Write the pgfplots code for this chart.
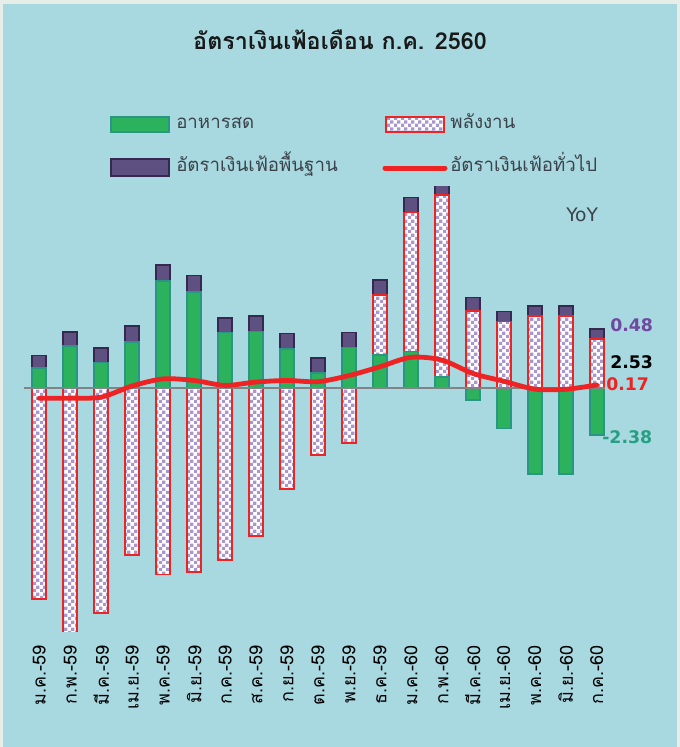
\documentclass[border=0pt]{standalone}
\usepackage{pgfplots}
\pgfplotsset{compat=1.18}
\usepackage{pgfplotstable}
\usetikzlibrary{patterns}
\usepackage{fontspec}
\newfontfamily\thaifont[Script=Thai]{Loma}
\newfontfamily\numfont{DejaVu Sans}

\pgfdeclarepatternformonly{smallcheck}{\pgfqpoint{0pt}{0pt}}{\pgfqpoint{5pt}{5pt}}{\pgfqpoint{5pt}{5pt}}{%
  \pgfpathrectangle{\pgfqpoint{0pt}{0pt}}{\pgfqpoint{2.5pt}{2.5pt}}%
  \pgfpathrectangle{\pgfqpoint{2.5pt}{2.5pt}}{\pgfqpoint{2.5pt}{2.5pt}}%
  \pgfusepath{fill}}

\definecolor{bg}{RGB}{168,216,224}
\definecolor{bordc}{RGB}{231,237,233}
\definecolor{foodfill}{RGB}{44,178,92}
\definecolor{foodline}{RGB}{40,150,130}
\definecolor{corefill}{RGB}{95,80,130}
\definecolor{coreline}{RGB}{55,40,80}
\definecolor{enred}{RGB}{238,36,36}
\definecolor{lav}{RGB}{168,150,204}
\definecolor{hlred}{RGB}{238,36,36}
\definecolor{zerog}{RGB}{128,132,132}
\definecolor{txtgray}{RGB}{60,66,74}
\definecolor{lblpurple}{RGB}{112,72,160}
\definecolor{lblteal}{RGB}{38,160,130}

\pgfplotstableread{
i food energy core hl
0 1.02 -10.75 0.65 -0.51
1 2.16 -12.90 0.72 -0.50
2 1.31 -11.45 0.76 -0.45
3 2.35 -8.50 0.82 0.12
4 5.47 -9.49 0.82 0.48
5 4.90 -9.36 0.85 0.40
6 2.84 -8.76 0.76 0.15
7 2.89 -7.52 0.80 0.32
8 1.99 -5.14 0.80 0.40
9 0.77 -3.40 0.76 0.34
10 2.09 -2.80 0.76 0.65
11 1.70 3.06 0.76 1.10
12 1.87 7.10 0.76 1.58
13 0.59 9.27 0.64 1.44
14 -0.60 3.96 0.68 0.76
15 -2.05 3.40 0.52 0.36
16 -4.37 3.70 0.50 -0.04
17 -4.37 3.70 0.50 -0.05
18 -2.38 2.53 0.48 0.17
}\data

\begin{document}
\begin{tikzpicture}
\begin{scope}[x=0.75pt,y=-0.75pt]
\useasboundingbox (0,0) rectangle (680,747);
\fill[bordc] (0,0) rectangle (680,747);
\fill[bg] (3,4) rectangle (677,747);
% title
\node[inner sep=0pt, font=\thaifont\bfseries\fontsize{17.5}{20}\selectfont, text=black!90] at (340,40) {อัตราเงินเฟ้อเดือน ก.ค. 2560};
% legend
\draw[foodline, fill=foodfill, line width=1.2pt] (111,117) rectangle (169,132);
\draw[coreline, fill=corefill, line width=1.2pt] (111,159) rectangle (169,176);
\draw[enred, line width=1.3pt, preaction={fill=white}, pattern=smallcheck, pattern color=lav] (386,117) rectangle (444,132);
\draw[hlred, line width=3.75pt, line cap=round] (385,168) -- (445,168);
\begin{scope}[every node/.style={anchor=base west, inner sep=0pt, text=txtgray, font=\thaifont\fontsize{14}{16}\selectfont}]
\node at (176,128.5) {อาหารสด};
\node at (450,128.5) {พลังงาน};
\node at (176,171.5) {อัตราเงินเฟ้อพื้นฐาน};
\node at (450,171.5) {อัตราเงินเฟ้อทั่วไป};
\end{scope}
% YoY and value labels
\node[anchor=west, inner sep=0pt, text=txtgray, font=\numfont\fontsize{14}{16}\selectfont] at (566,215) {YoY};
\node[anchor=west, inner sep=0pt, text=lblpurple, font=\numfont\bfseries\fontsize{13}{15}\selectfont] at (610,325) {0.48};
\node[anchor=west, inner sep=0pt, text=black, font=\numfont\bfseries\fontsize{13}{15}\selectfont] at (610,362) {2.53};
\node[anchor=west, inner sep=0pt, text=hlred, font=\numfont\bfseries\fontsize{13}{15}\selectfont] at (606,384) {0.17};
\node[anchor=west, inner sep=0pt, text=lblteal, font=\numfont\bfseries\fontsize{13}{15}\selectfont] at (602,437.5) {-2.38};
\end{scope}

\begin{axis}[
  at={(18pt,-473.25pt)}, anchor=south west,
  scale only axis, width=435.75pt, height=333.75pt,
  xmin=-0.494, xmax=18.267, ymin=-12.38, ymax=10.32,
  axis line style={draw=none}, tick style={draw=none},
  major tick length=0pt,
  ytick=\empty,
  xtick={0,...,18},
  xticklabels={ม.ค.-59, ก.พ.-59, มี.ค.-59, เม.ย.-59, พ.ค.-59, มิ.ย.-59, ก.ค.-59, ส.ค.-59, ก.ย.-59, ต.ค.-59, พ.ย.-59, ธ.ค.-59, ม.ค.-60, ก.พ.-60, มี.ค.-60, เม.ย.-60, พ.ค.-60, มิ.ย.-60, ก.ค.-60},
  xticklabel style={font=\thaifont\fontsize{13.5}{15}\selectfont, rotate=90, anchor=east, inner sep=0pt, text=black},
  xticklabel shift=10.5pt,
  clip mode=individual,
  barstyle/.style={ybar, bar width=10.5pt, bar shift=0pt, line width=1.25pt},
]
% core (top of positive stack)
\addplot[barstyle, draw=coreline, fill=corefill]
  table[x=i, y expr={max(\thisrow{food},0)+max(\thisrow{energy},0)+\thisrow{core}}] {\data};
% energy positive part
\addplot[barstyle, draw=enred, preaction={fill=white}, pattern=smallcheck, pattern color=lav, skip coords between index={0}{11}]
  table[x=i, y expr={max(\thisrow{food},0)+\thisrow{energy}}] {\data};
% food positive part
\addplot[barstyle, draw=foodline, fill=foodfill, skip coords between index={14}{19}]
  table[x=i, y=food] {\data};
% energy negative part
\addplot[barstyle, draw=enred, preaction={fill=white}, pattern=smallcheck, pattern color=lav, skip coords between index={11}{19}]
  table[x=i, y=energy] {\data};
% food negative part
\addplot[barstyle, draw=foodline, fill=foodfill, skip coords between index={0}{14}]
  table[x=i, y=food] {\data};
% zero line
\draw[zerog, line width=1.5pt] (axis cs:-0.494,0) -- (axis cs:18.267,0);
% headline inflation
\addplot[smooth, hlred, line width=3.6pt, line cap=round, mark=none]
  table[x=i, y=hl] {\data};
\end{axis}
\end{tikzpicture}
\end{document}
